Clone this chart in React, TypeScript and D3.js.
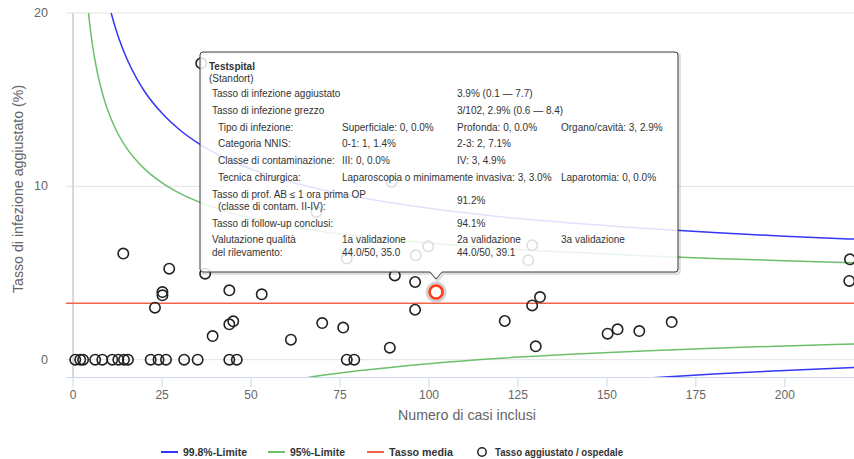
import React from "react";
import * as d3 from "d3";

const W = 854;
const H = 459;

const xTicks = [0, 25, 50, 75, 100, 125, 150, 175, 200];
const yTicks = [0, 10, 20];
const meanRate = 3.25;

// control limits
const upper998N = [10, 11, 12, 13, 15, 18, 20, 25, 30, 35, 40, 50, 60, 70, 80, 100, 120, 140, 160, 180, 200, 220];
const upper998V = [20.58, 19.77, 19.07, 18.45, 17.4, 16.17, 15.5, 14.21, 13.25, 12.51, 11.91, 11.0, 10.32, 9.8, 9.38, 8.73, 8.25, 7.88, 7.58, 7.33, 7.12, 6.95];
const upper95N = [4, 5, 6, 7, 8, 9, 10, 12, 15, 20, 25, 30, 40, 50, 60, 70, 80, 100, 120, 140, 160, 180, 200, 220];
const upper95V = [20.63, 18.79, 17.44, 16.39, 15.54, 14.84, 14.24, 13.28, 12.22, 11.02, 10.2, 9.59, 8.75, 8.17, 7.74, 7.4, 7.14, 6.73, 6.42, 6.19, 6.0, 5.84, 5.71, 5.59];
const lower95N = [60, 70, 80, 100, 120, 140, 160, 180, 200, 220];
const lower95V = [-1.24, -0.9, -0.64, -0.23, 0.08, 0.31, 0.5, 0.66, 0.79, 0.91];
const lower998N = [150, 160, 180, 200, 220];
const lower998V = [-1.22, -1.08, -0.83, -0.62, -0.45];

// hospitals
const hospitalN = [
  0.6, 2.0, 2.8, 6.2, 8.2, 11.0, 12.7, 14.3, 15.4, 21.8, 24.0, 26.1, 31.2, 35.0, 43.9, 46.0, 76.9, 79.0,
  14.1, 27.0, 25.1, 25.1, 23.0, 37.1, 43.9, 53.0, 39.2, 43.9, 45.0, 61.2, 70.0, 75.9, 89.0, 90.4, 96.1, 96.1,
  121.3, 129.0, 131.2, 130.0, 150.2, 153.0, 159.1, 168.2, 218.3, 218.1,
  36.0, 68.4, 76.9, 89.5, 96.3, 99.8, 129.0, 127.9,
];
const hospitalRate = [
  0, 0, 0, 0, 0, 0, 0, 0, 0, 0, 0, 0, 0, 0, 0, 0, 0, 0,
  6.12, 5.25, 3.9, 3.71, 3.0, 4.96, 4.0, 3.77, 1.36, 2.04, 2.21, 1.15, 2.11, 1.85, 0.69, 4.86, 4.48, 2.88,
  2.23, 3.13, 3.61, 0.77, 1.5, 1.75, 1.65, 2.17, 5.79, 4.54,
  17.1, 8.52, 5.83, 10.25, 6.02, 6.54, 6.6, 5.73,
];
const selectedN = 102;
const selectedRate = 3.9;

const legendLabels = ["99.8%-Limite", "95%-Limite", "Tasso media", "Tasso aggiustato / ospedale"];
const legendColors = ["#3535f5", "#6cbf6c", "#f2644a", "#222"];

const ttTitle = "Testspital";
const ttSubtitle = "(Standort)";
const ttAdjLabel = "Tasso di infezione aggiustato";
const ttAdjValue = "3.9% (0.1 \u2014 7.7)";
const ttRawLabel = "Tasso di infezione grezzo";
const ttRawValue = "3/102, 2.9% (0.6 \u2014 8.4)";
const ttSubRows = [
  ["Tipo di infezione:", "Superficiale: 0, 0.0%", "Profonda: 0, 0.0%", "Organo/cavità: 3, 2.9%"],
  ["Categoria NNIS:", "0-1: 1, 1.4%", "2-3: 2, 7.1%", ""],
  ["Classe di contaminazione:", "III: 0, 0.0%", "IV: 3, 4.9%", ""],
];
const ttTechLabel = "Tecnica chirurgica:";
const ttTechA = "Laparoscopia o minimamente invasiva: 3, 3.0%";
const ttTechB = "Laparotomia: 0, 0.0%";
const ttProfLabel = ["Tasso di prof. AB \u2264 1 ora prima OP", "(classe di contam. II-IV):"];
const ttProfValue = "91.2%";
const ttFollowLabel = "Tasso di follow-up conclusi:";
const ttFollowValue = "94.1%";
const ttQualLabel = ["Valutazione qualità", "del rilevamento:"];
const ttQualCols = [
  ["1a validazione", "44.0/50,  35.0"],
  ["2a validazione", "44.0/50,  39.1"],
  ["3a validazione", ""],
];

const FONT = "'Liberation Sans', Arial, sans-serif";

export default function App() {
  const x = d3.scaleLinear().domain([-2, 220]).range([66, 856]);
  const y = d3.scaleLinear().domain([-1, 20]).range([377, 13]);
  const plotL = 66, plotR = 854, plotT = 13, plotB = 377;

  const line = d3
    .line<[number, number]>()
    .x((d) => x(d[0]))
    .y((d) => y(d[1]))
    .curve(d3.curveMonotoneX);
  const zip = (a: number[], b: number[]) => a.map((v, i) => [v, b[i]] as [number, number]);

  // tooltip geometry
  const tx0 = 200, ty0 = 52, tx1 = 678, ty1 = 272, r = 3;
  const px = x(selectedN);
  const tipPath =
    `M ${tx0 + r} ${ty0} L ${tx1 - r} ${ty0} Q ${tx1} ${ty0} ${tx1} ${ty0 + r} L ${tx1} ${ty1 - r} Q ${tx1} ${ty1} ${tx1 - r} ${ty1} ` +
    `L ${px + 6} ${ty1} L ${px} ${ty1 + 7} L ${px - 6} ${ty1} ` +
    `L ${tx0 + r} ${ty1} Q ${tx0} ${ty1} ${tx0} ${ty1 - r} L ${tx0} ${ty0 + r} Q ${tx0} ${ty0} ${tx0 + r} ${ty0} Z`;

  const c1 = 212, c1s = 218, c2 = 342, c3 = 457, c4 = 561;
  const tfs = 10;
  const tcol = "#333";

  const legendY = 452;
  const legendX = [161, 268, 367, 482];
  const legendLens = [64, 55, 64, 128];

  return (
    <svg width={W} height={H} style={{ position: "absolute", left: 0, top: 0, fontFamily: FONT }}>
      <defs>
        <clipPath id="plotclip">
          <rect x={plotL} y={plotT} width={plotR - plotL} height={plotB - plotT} />
        </clipPath>
      </defs>
      <rect width={W} height={H} fill="#fff" />
      {/* grid */}
      {yTicks.map((t) => (
        <line key={"g" + t} x1={plotL} x2={plotR} y1={y(t)} y2={y(t)} stroke="#e3e3e3" strokeWidth={1} />
      ))}
      <line x1={x(0)} x2={x(0)} y1={plotT} y2={plotB} stroke="#d6d6d6" strokeWidth={2} />
      {/* x axis */}
      <line x1={plotL} x2={plotR} y1={plotB + 0.5} y2={plotB + 0.5} stroke="#ccd6eb" strokeWidth={1} />
      {xTicks.map((t) => (
        <g key={"xt" + t}>
          <line x1={x(t)} x2={x(t)} y1={plotB} y2={plotB + 10} stroke="#ccd6eb" strokeWidth={1} />
          <text x={x(t)} y={395} textAnchor="middle" dominantBaseline="central" fontSize={12} fill="#666">
            {t}
          </text>
        </g>
      ))}
      {yTicks.map((t) => (
        <text key={"yt" + t} x={48} y={y(t)} textAnchor="end" dominantBaseline="central" fontSize={12.5} fill="#666">
          {t}
        </text>
      ))}
      <text x={467} y={415} textAnchor="middle" dominantBaseline="central" fontSize={14.2} fill="#666">
        Numero di casi inclusi
      </text>
      <text
        transform={`translate(18, 189) rotate(-90)`}
        textAnchor="middle"
        dominantBaseline="central"
        fontSize={14.2}
        fill="#666"
      >
        Tasso di infezione aggiustato (%)
      </text>

      {/* series */}
      <g clipPath="url(#plotclip)" fill="none" strokeWidth={1.5}>
        <path d={line(zip(upper998N, upper998V)) || ""} stroke={legendColors[0]} />
        <path d={line(zip(lower998N, lower998V)) || ""} stroke={legendColors[0]} />
        <path d={line(zip(upper95N, upper95V)) || ""} stroke={legendColors[1]} />
        <path d={line(zip(lower95N, lower95V)) || ""} stroke={legendColors[1]} />
        <line x1={plotL} x2={plotR} y1={y(meanRate)} y2={y(meanRate)} stroke={legendColors[2]} strokeWidth={1.5} />
        {hospitalN.map((n, i) => (
          <circle key={"p" + i} cx={x(n)} cy={y(hospitalRate[i])} r={5.2} fill="#fff" fillOpacity={0} stroke="#222" strokeWidth={1.6} />
        ))}
        <circle cx={x(selectedN)} cy={y(selectedRate)} r={10.5} fill="#999" fillOpacity={0.45} />
        <circle cx={x(selectedN)} cy={y(selectedRate)} r={6.5} fill="#fff" stroke="#ff3b1a" strokeWidth={2.6} />
      </g>

      {/* tooltip */}
      <path d={tipPath} transform="translate(1.5,1.5)" fill="none" stroke="#000" strokeOpacity={0.12} strokeWidth={3} />
      <path d={tipPath} fill="#fff" fillOpacity={0.85} stroke="#3a3a3a" strokeWidth={1} />
      <g fontSize={tfs} fill={tcol} dominantBaseline="central">
        <text x={209} y={66} fontWeight="bold">{ttTitle}</text>
        <text x={209} y={78}>{ttSubtitle}</text>
        <text x={c1} y={93}>{ttAdjLabel}</text>
        <text x={c3} y={93}>{ttAdjValue}</text>
        <text x={c1} y={110.5}>{ttRawLabel}</text>
        <text x={c3} y={110.5}>{ttRawValue}</text>
        {ttSubRows.map((row, i) => {
          const yy = 127 + i * 16.7;
          return (
            <g key={"sr" + i}>
              <text x={c1s} y={yy}>{row[0]}</text>
              <text x={c2} y={yy}>{row[1]}</text>
              <text x={c3} y={yy}>{row[2]}</text>
              {row[3] ? <text x={c4} y={yy}>{row[3]}</text> : null}
            </g>
          );
        })}
        <text x={c1s} y={177}>{ttTechLabel}</text>
        <text x={c2} y={177}>{ttTechA}</text>
        <text x={c4} y={177}>{ttTechB}</text>
        <text x={c1} y={194.5}>{ttProfLabel[0]}</text>
        <text x={c1s} y={206.5}>{ttProfLabel[1]}</text>
        <text x={c3} y={200}>{ttProfValue}</text>
        <text x={c1} y={223}>{ttFollowLabel}</text>
        <text x={c3} y={223}>{ttFollowValue}</text>
        <text x={c1} y={239.5}>{ttQualLabel[0]}</text>
        <text x={c1} y={252.5}>{ttQualLabel[1]}</text>
        {ttQualCols.map((col, i) => (
          <g key={"q" + i}>
            <text x={[c2, c3, c4][i]} y={239.5}>{col[0]}</text>
            {col[1] ? <text x={[c2, c3, c4][i]} y={252.5}>{col[1]}</text> : null}
          </g>
        ))}
      </g>

      {/* legend */}
      <g fontSize={10.5} fontWeight="bold" fill="#333" dominantBaseline="central">
        {legendLabels.map((lab, i) => (
          <g key={"lg" + i}>
            {i < 3 ? (
              <line x1={legendX[i]} x2={legendX[i] + 17} y1={legendY} y2={legendY} stroke={legendColors[i]} strokeWidth={2} />
            ) : (
              <circle cx={legendX[i]} cy={legendY} r={4.2} fill="#fff" stroke="#222" strokeWidth={1.5} />
            )}
            <text
              x={i < 3 ? legendX[i] + 22 : legendX[i] + 13}
              y={legendY}
              textLength={legendLens[i]}
              lengthAdjust="spacingAndGlyphs"
            >
              {lab}
            </text>
          </g>
        ))}
      </g>
    </svg>
  );
}
